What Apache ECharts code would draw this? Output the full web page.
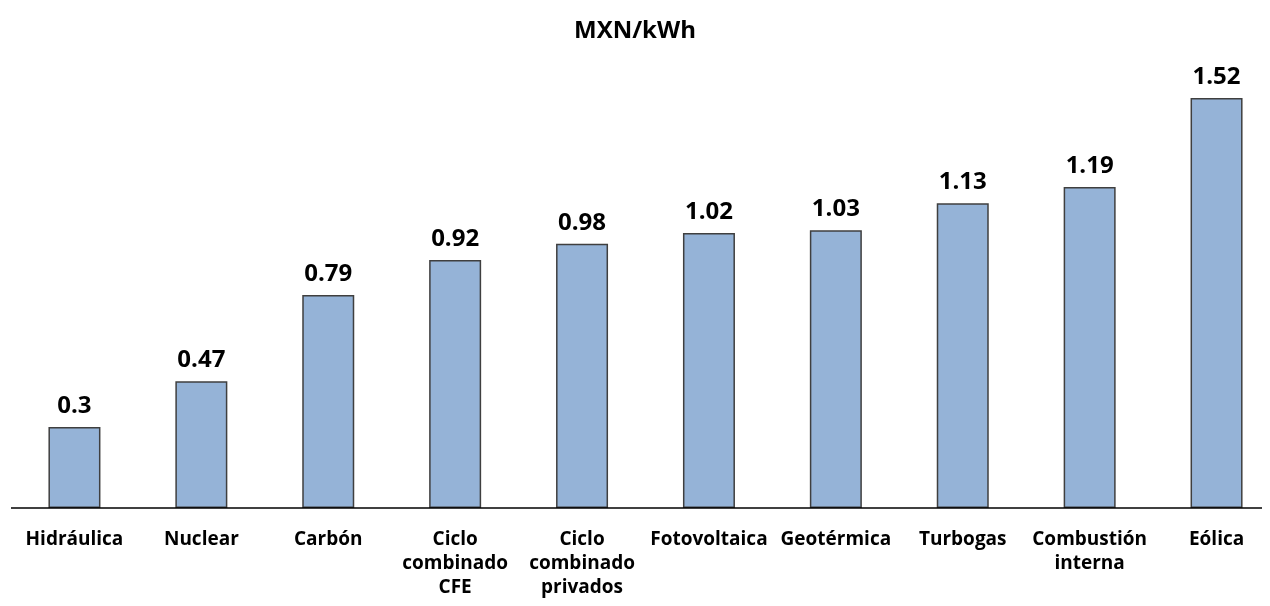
<!DOCTYPE html>
<html><head><meta charset="utf-8">
<script src="https://cdn.jsdelivr.net/npm/echarts@6/dist/echarts.min.js"></script>
<style>html,body{margin:0;padding:0;background:#fff}#c{width:1270px;height:606px}</style>
</head><body><div id="c"></div>
<script>
const categories = ["Hidráulica","Nuclear","Carbón","Ciclo\ncombinado\nCFE","Ciclo\ncombinado\nprivados","Fotovoltaica","Geotérmica","Turbogas","Combustión\ninterna","Eólica"];
const values = [0.3,0.47,0.79,0.92,0.98,1.02,1.03,1.13,1.19,1.52];
const titleText = "MXN/kWh";
const FONT = "'Open Sans', sans-serif";
const chart = echarts.init(document.getElementById('c'));
chart.setOption({
  animation:false,
  title:{text:titleText,left:'center',top:14,textStyle:{fontFamily:FONT,fontWeight:'bold',fontSize:24,color:'#000'}},
  grid:{left:11,width:1269,top:76.5,height:431.5,outerBoundsMode:'none',containLabel:false},
  xAxis:{type:'category',data:categories,axisLine:{show:false},axisTick:{show:false},
    axisLabel:{interval:0,margin:20,fontFamily:FONT,fontWeight:'bold',fontSize:19,color:'#000',lineHeight:24}},
  yAxis:{type:'value',min:0,max:1.6,show:false,splitLine:{show:false}},
  graphic:[{type:'line',shape:{x1:11,y1:508,x2:1262,y2:508},style:{stroke:'#000',lineWidth:1.5},z:10}],
  series:[{type:'bar',data:values,barWidth:52,
    itemStyle:{color:'#95B3D7',borderColor:'#3F3F3F',borderWidth:1.5},
    label:{show:true,position:'top',distance:9,fontFamily:FONT,fontWeight:'bold',fontSize:24,color:'#000'}}]
});
</script></body></html>
